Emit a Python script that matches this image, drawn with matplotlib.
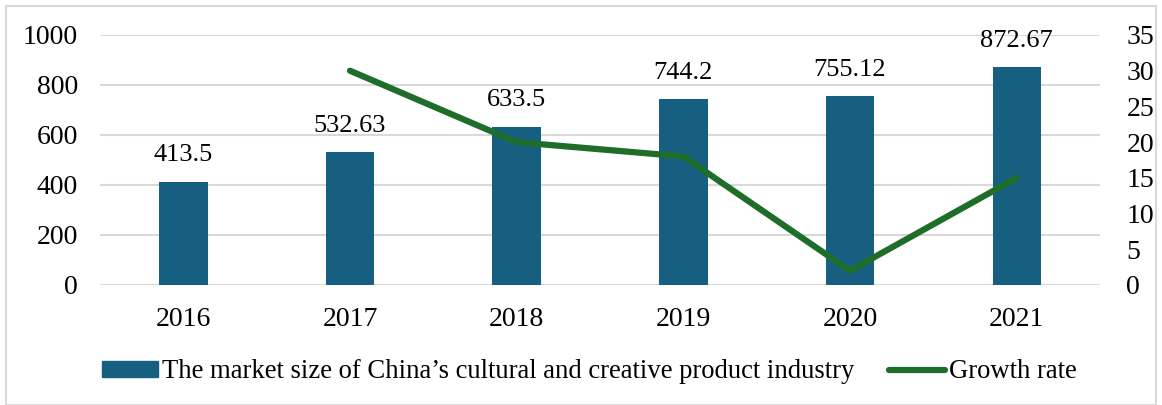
import matplotlib.pyplot as plt
from matplotlib.patches import Rectangle

plt.rcParams['font.family'] = ['Liberation Serif', 'DejaVu Serif']

years = ['2016', '2017', '2018', '2019', '2020', '2021']
market_size = [413.5, 532.63, 633.5, 744.2, 755.12, 872.67]
growth_years = ['2017', '2018', '2019', '2020', '2021']
growth_rate = [30, 20, 18, 2, 15]

BAR_COLOR = '#175f80'
LINE_COLOR = '#1e6e2a'
GRID_COLOR = '#d9d9d9'

fig = plt.figure(figsize=(11.62, 4.05), dpi=100)
ax = fig.add_axes([100 / 1162, 1 - 285 / 405, 1000 / 1162, 250 / 405])

x = list(range(len(years)))
ax.bar(x, market_size, width=0.29, color=BAR_COLOR, zorder=2)
for xi, v in zip(x, market_size):
    ax.annotate(f'{v:g}', (xi, v), xytext=(0, 11), textcoords='offset points',
                ha='center', va='bottom', fontsize=19)

ax.set_xlim(-0.5, len(years) - 0.5)
ax.set_ylim(0, 1000)
ax.set_yticks(range(0, 1001, 200))
ax.set_xticks(x)
ax.set_xticklabels(years)
ax.yaxis.grid(True, color=GRID_COLOR, linewidth=1.5, zorder=0)
ax.set_axisbelow(True)
ax.tick_params(length=0, labelsize=20)
ax.tick_params(axis='y', pad=16)
ax.tick_params(axis='x', pad=16)
for s in ax.spines.values():
    s.set_visible(False)
ax.axhline(0, color=GRID_COLOR, linewidth=1.5, zorder=1)

ax2 = ax.twinx()
gx = [years.index(y) for y in growth_years]
ax2.plot(gx, growth_rate, color=LINE_COLOR, linewidth=4.5, solid_capstyle='round', zorder=3)
ax2.set_ylim(0, 35)
ax2.set_yticks(range(0, 36, 5))
ax2.tick_params(length=0, labelsize=20, pad=19)
for s in ax2.spines.values():
    s.set_visible(False)

handles = [Rectangle((0, 0), 1, 1, color=BAR_COLOR),
           plt.Line2D([], [], color=LINE_COLOR, linewidth=4.5, solid_capstyle='round')]
labels = ['The market size of China\u2019s cultural and creative product industry', 'Growth rate']
fig.legend(handles, labels, loc='center', bbox_to_anchor=(0.507, 1 - 372 / 405), ncol=2,
           frameon=False, fontsize=19.2, handlelength=2.1, handleheight=0.5,
           handletextpad=0.15, columnspacing=1.3)

fig.add_artist(Rectangle((6 / 1162, 0), 1 - 12 / 1162, 1 - 6 / 405, transform=fig.transFigure,
                         fill=False, edgecolor='#d9d9d9', linewidth=1.5))

fig.savefig('out.png', dpi=100)
